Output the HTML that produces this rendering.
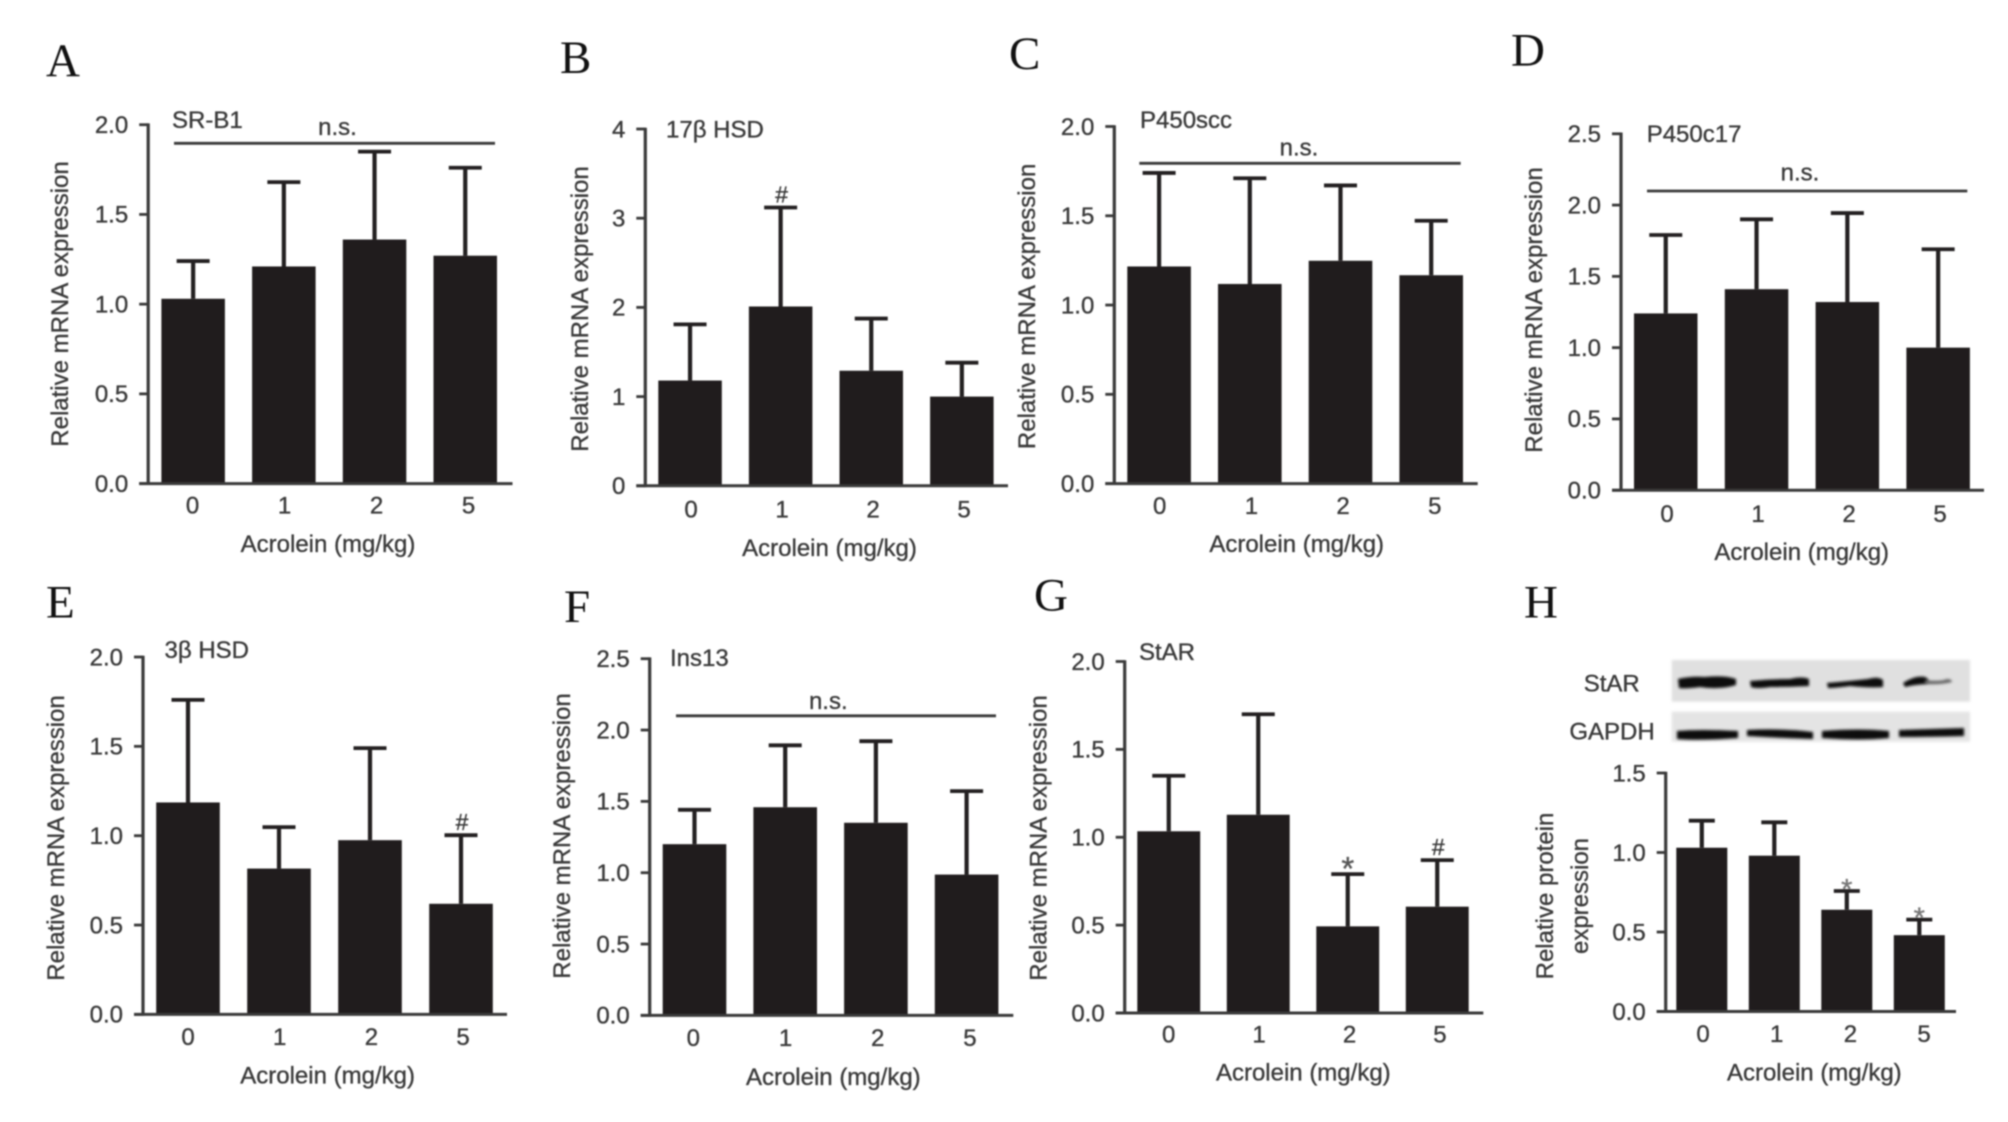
<!DOCTYPE html>
<html lang="en">
<head>
<meta charset="utf-8">
<title>Acrolein relative expression panels</title>
<style>
  html, body { margin: 0; padding: 0; background: #fff; }
  body { width: 2008px; height: 1122px; overflow: hidden; }
  svg { display: block; filter: blur(0.7px); }
  text { font-family: "Liberation Sans", sans-serif; fill: #3a3a3a; font-size: 24px; stroke: #3a3a3a; stroke-width: 0.35px; }
  .letter { font-family: "Liberation Serif", serif; font-size: 47px; fill: #111; stroke: none; }
  .nsline { stroke: #3a3a3a; stroke-width: 2.8; }
</style>
</head>
<body>
<svg id="figure" width="2008" height="1122" viewBox="0 0 2008 1122" xmlns="http://www.w3.org/2000/svg">
  <defs>
    <filter id="band-blur" x="-10%" y="-60%" width="120%" height="220%"><feGaussianBlur stdDeviation="1.2"/></filter>
  </defs>

  <g id="panel-a">
    <text class="letter" x="46" y="76">A</text>
    <text x="172" y="128">SR-B1</text>
    <text x="337.5" y="135" text-anchor="middle">n.s.</text>
    <line class="nsline" x1="174" x2="495" y1="143.3" y2="143.3"/>
    <text transform="translate(68,304) rotate(-90)" text-anchor="middle">Relative mRNA expression</text>
    <text x="328" y="552" text-anchor="middle">Acrolein (mg/kg)</text>
  </g>

  <g id="panel-b">
    <text class="letter" x="560" y="73">B</text>
    <text x="666" y="137.5">17β HSD</text>
    <text transform="translate(588,309) rotate(-90)" text-anchor="middle">Relative mRNA expression</text>
    <text x="829.5" y="556" text-anchor="middle">Acrolein (mg/kg)</text>
  </g>

  <g id="panel-c">
    <text class="letter" x="1009" y="69">C</text>
    <text x="1140" y="128">P450scc</text>
    <text x="1299" y="155.6" text-anchor="middle">n.s.</text>
    <line class="nsline" x1="1139.3" x2="1460.7" y1="163.3" y2="163.3"/>
    <text transform="translate(1035,306.4) rotate(-90)" text-anchor="middle">Relative mRNA expression</text>
    <text x="1296.7" y="552" text-anchor="middle">Acrolein (mg/kg)</text>
  </g>

  <g id="panel-d">
    <text class="letter" x="1511" y="65.5">D</text>
    <text x="1646.7" y="141.8">P450c17</text>
    <text x="1800" y="180.7" text-anchor="middle">n.s.</text>
    <line class="nsline" x1="1647" x2="1967.3" y1="191" y2="191"/>
    <text transform="translate(1542,310) rotate(-90)" text-anchor="middle">Relative mRNA expression</text>
    <text x="1801.7" y="560" text-anchor="middle">Acrolein (mg/kg)</text>
  </g>

  <g id="panel-e">
    <text class="letter" x="46" y="617.5">E</text>
    <text x="164.5" y="658">3β HSD</text>
    <text transform="translate(63.8,838) rotate(-90)" text-anchor="middle">Relative mRNA expression</text>
    <text x="327.6" y="1083.4" text-anchor="middle">Acrolein (mg/kg)</text>
  </g>

  <g id="panel-f">
    <text class="letter" x="564" y="621.8">F</text>
    <text x="670" y="666">Ins13</text>
    <text x="828.3" y="709" text-anchor="middle">n.s.</text>
    <line class="nsline" x1="676" x2="996" y1="715.8" y2="715.8"/>
    <text transform="translate(570,836) rotate(-90)" text-anchor="middle">Relative mRNA expression</text>
    <text x="833.3" y="1085" text-anchor="middle">Acrolein (mg/kg)</text>
  </g>

  <g id="panel-g">
    <text class="letter" x="1034" y="610.5">G</text>
    <text x="1139" y="659.8">StAR</text>
    <text transform="translate(1046.7,838) rotate(-90)" text-anchor="middle">Relative mRNA expression</text>
    <text x="1303.3" y="1080.6" text-anchor="middle">Acrolein (mg/kg)</text>
  </g>

  <g id="panel-h">
    <text class="letter" x="1524" y="617.5">H</text>
    <text x="1611.7" y="691.5" text-anchor="middle">StAR</text>
    <text x="1612" y="739.7" text-anchor="middle">GAPDH</text>
    <g>
      <rect x="1671.7" y="660" width="298.3" height="41.7" fill="#e0e0e0" filter="url(#band-blur)"/>
      <g fill="#0c0c0c" filter="url(#band-blur)">
        <path d="M1678 679 Q1690 676 1705 677 Q1725 675 1736 679 L1736 685 Q1720 690 1700 687 Q1685 689 1679 688 Z"/>
        <path d="M1750 681 Q1770 679 1790 679 Q1802 676 1809 679 L1809 686 Q1790 687 1770 687 Q1757 689 1751 687 Z"/>
        <path d="M1827 683 Q1850 681 1868 679 Q1878 676 1883 680 L1883 687 Q1870 688 1850 686 Q1835 688 1828 688 Z"/>
        <path d="M1903 683 Q1915 675 1925 677 Q1931 680 1926 684 Q1912 685 1905 687 Z"/>
      </g>
      <path d="M1925 680 Q1940 682 1947 679 Q1952 679 1952 682 Q1940 685 1925 684 Z" fill="#666" filter="url(#band-blur)"/>
    </g>
    <g>
      <rect x="1671.7" y="711.7" width="298.3" height="30" fill="#e4e4e4" filter="url(#band-blur)"/>
      <g fill="#0c0c0c" filter="url(#band-blur)">
        <path d="M1677 731 Q1700 729 1738 731 L1738 738 Q1700 741 1677 739 Z"/>
        <path d="M1747 730 Q1780 728 1813 732 L1813 739 Q1780 738 1747 736 Z"/>
        <path d="M1822 731 Q1860 728 1889 731 L1889 738 Q1860 741 1822 738 Z"/>
        <path d="M1899 730 Q1930 729 1964 728 L1964 736 Q1930 737 1899 737 Z"/>
      </g>
    </g>
    <text transform="translate(1553,896) rotate(-90)" text-anchor="middle">Relative protein</text>
    <text transform="translate(1588,896) rotate(-90)" text-anchor="middle">expression</text>
    <text x="1814.3" y="1080.6" text-anchor="middle">Acrolein (mg/kg)</text>
  </g>
</svg>

<script>
const doseCategories = ['0', '1', '2', '5'];

const yTicksA = ['0.0', '0.5', '1.0', '1.5', '2.0'];
const meansA = [1.03, 1.21, 1.36, 1.27];
const errorTopsA = [1.24, 1.68, 1.85, 1.76];

const yTicksB = ['0', '1', '2', '3', '4'];
const meansB = [1.18, 2.01, 1.29, 1.0];
const errorTopsB = [1.81, 3.12, 1.875, 1.38];

const yTicksC = ['0.0', '0.5', '1.0', '1.5', '2.0'];
const meansC = [1.216, 1.118, 1.248, 1.167];
const errorTopsC = [1.74, 1.71, 1.67, 1.472];

const yTicksD = ['0.0', '0.5', '1.0', '1.5', '2.0', '2.5'];
const meansD = [1.24, 1.41, 1.32, 1.0];
const errorTopsD = [1.79, 1.9, 1.944, 1.69];

const yTicksE = ['0.0', '0.5', '1.0', '1.5', '2.0'];
const meansE = [1.186, 0.816, 0.975, 0.619];
const errorTopsE = [1.76, 1.048, 1.49, 1.003];

const yTicksF = ['0.0', '0.5', '1.0', '1.5', '2.0', '2.5'];
const meansF = [1.2, 1.459, 1.35, 0.987];
const errorTopsF = [1.441, 1.893, 1.922, 1.572];

const yTicksG = ['0.0', '0.5', '1.0', '1.5', '2.0'];
const meansG = [1.034, 1.128, 0.493, 0.605];
const errorTopsG = [1.35, 1.7, 0.79, 0.87];

const yTicksH = ['0.0', '0.5', '1.0', '1.5'];
const meansH = [1.03, 0.98, 0.64, 0.48];
const errorTopsH = [1.2, 1.19, 0.758, 0.578];

const marksB = ['', '#', '', ''];
const marksE = ['', '', '', '#'];
const marksG = ['', '', '*', '#'];
const marksH = ['', '', '*', '*'];
const noMarks = ['', '', '', ''];

const panelLayouts = [
  { id: 'a', ticks: yTicksA, means: meansA, tops: errorTopsA, marks: noMarks, axisX: 148.2, plotTop: 124.7, plotBase: 483.6, axisEnd: 512.5, barStart: 161.4, barStep: 90.7, barWidth: 63.5, capWidth: 33, labelStart: 192.5, labelStep: 92, labelBase: 513.5 },
  { id: 'b', ticks: yTicksB, means: meansB, tops: errorTopsB, marks: marksB, axisX: 645.3, plotTop: 129, plotBase: 485.8, axisEnd: 1008, barStart: 658.3, barStep: 90.6, barWidth: 63.5, capWidth: 33, labelStart: 691, labelStep: 91, labelBase: 517.5 },
  { id: 'c', ticks: yTicksC, means: meansC, tops: errorTopsC, marks: noMarks, axisX: 1114.3, plotTop: 126.5, plotBase: 483.6, axisEnd: 1477.7, barStart: 1127.3, barStep: 90.7, barWidth: 63.6, capWidth: 33, labelStart: 1159.7, labelStep: 91.7, labelBase: 513.8 },
  { id: 'd', ticks: yTicksD, means: meansD, tops: errorTopsD, marks: noMarks, axisX: 1621, plotTop: 133.8, plotBase: 490.2, axisEnd: 1984, barStart: 1634, barStep: 90.8, barWidth: 63.5, capWidth: 33, labelStart: 1667, labelStep: 91, labelBase: 521.8 },
  { id: 'e', ticks: yTicksE, means: meansE, tops: errorTopsE, marks: marksE, axisX: 143, plotTop: 657, plotBase: 1014.4, axisEnd: 507, barStart: 156.2, barStep: 91, barWidth: 63.6, capWidth: 33, labelStart: 188, labelStep: 91.7, labelBase: 1045 },
  { id: 'f', ticks: yTicksF, means: meansF, tops: errorTopsF, marks: noMarks, axisX: 649.7, plotTop: 658.7, plotBase: 1015.4, axisEnd: 1013.3, barStart: 662.7, barStep: 90.7, barWidth: 63.6, capWidth: 33, labelStart: 693.3, labelStep: 92.2, labelBase: 1046 },
  { id: 'g', ticks: yTicksG, means: meansG, tops: errorTopsG, marks: marksG, axisX: 1124.7, plotTop: 661.5, plotBase: 1013, axisEnd: 1483.3, barStart: 1137.3, barStep: 89.5, barWidth: 62.9, capWidth: 33, labelStart: 1168.7, labelStep: 90.4, labelBase: 1042.5 },
  { id: 'h', ticks: yTicksH, means: meansH, tops: errorTopsH, marks: marksH, axisX: 1665.7, plotTop: 773, plotBase: 1011.5, axisEnd: 1956, barStart: 1676.3, barStep: 72.5, barWidth: 51, capWidth: 26, labelStart: 1703, labelStep: 73.7, labelBase: 1042 }
];

const SVG_NS = 'http://www.w3.org/2000/svg';

function shape(tag, parent, attrs) {
  const node = document.createElementNS(SVG_NS, tag);
  Object.keys(attrs).forEach(function (key) { node.setAttribute(key, attrs[key]); });
  parent.appendChild(node);
  return node;
}

function yScale(p, value) {
  const yMax = parseFloat(p.ticks[p.ticks.length - 1]);
  return p.plotBase - (value / yMax) * (p.plotBase - p.plotTop);
}

function barLeft(p, index) {
  return p.barStart + index * p.barStep;
}

function drawPanel(p) {
  const group = document.getElementById('panel-' + p.id);

  p.means.forEach(function (mean, i) {
    const left = barLeft(p, i);
    const center = left + p.barWidth / 2;
    const topY = yScale(p, p.tops[i]);
    const meanY = yScale(p, mean);

    const stem = shape('line', group, { x1: center, x2: center, y1: topY, y2: meanY, stroke: '#232021', 'stroke-width': 4.2 });
    
    

    const cap = shape('line', group, { x1: center - p.capWidth / 2, x2: center + p.capWidth / 2, y1: topY, y2: topY, stroke: '#232021', 'stroke-width': 3.8 });
    
    

    const bar = shape('rect', group, { x: left, y: meanY, width: p.barWidth, height: p.plotBase - meanY, fill: '#201c1d' });
    
    

    const label = shape('text', group, { x: p.labelStart + i * p.labelStep, y: p.labelBase, 'text-anchor': 'middle' });
    label.textContent = doseCategories[i];
    
    

    if (p.marks[i] === '#') {
      const hash = shape('text', group, { x: center + 1, y: topY - 5, 'text-anchor': 'middle', style: 'font-size:23px' });
      hash.textContent = '#';
      
      
    } else if (p.marks[i] === '*') {
      const large = p.id === 'g';
      const star = shape('text', group, { x: center, y: topY + (large ? 6 : 8), 'text-anchor': 'middle', style: large ? 'font-size:33px;fill:#555;stroke:#555' : 'font-size:29px;fill:#777;stroke:#777' });
      star.textContent = '*';
      
      
    }
  });

  const yAxis = shape('line', group, { x1: p.axisX, x2: p.axisX, y1: p.plotTop - 1.3, y2: p.plotBase + 1.3, stroke: '#3a3a3a', 'stroke-width': 3.2 });
  
  

  const xAxis = shape('line', group, { x1: p.axisX - 9, x2: p.axisEnd, y1: p.plotBase, y2: p.plotBase, stroke: '#3a3a3a', 'stroke-width': 3 });
  
  

  p.ticks.forEach(function (tick) {
    const y = yScale(p, parseFloat(tick));

    const mark = shape('line', group, { x1: p.axisX - 9, x2: p.axisX, y1: y, y2: y, stroke: '#3a3a3a', 'stroke-width': 2.8 });
    
    

    const text = shape('text', group, { x: p.axisX - 20, y: y + 8.3, 'text-anchor': 'end' });
    text.textContent = tick;
    
    
  });
}

panelLayouts.forEach(drawPanel);
</script>
</body>
</html>
